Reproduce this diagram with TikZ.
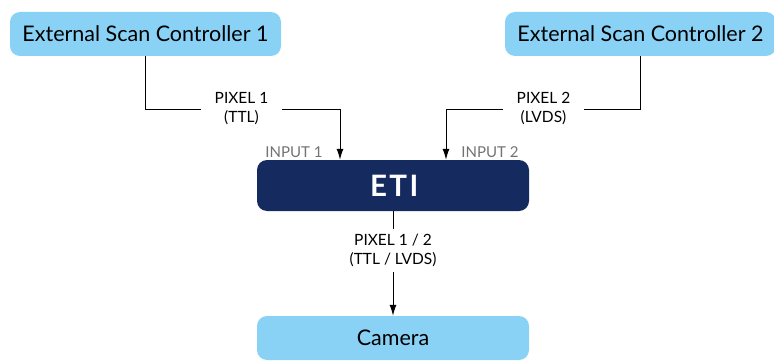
\documentclass[tikz,border=0pt]{standalone}
\usepackage{fontspec}
\setmainfont{Lato}
\usetikzlibrary{positioning,arrows.meta}
\definecolor{skyblue}{HTML}{89D1F5}
\definecolor{etinavy}{HTML}{152A5F}
\definecolor{portgray}{HTML}{737373}

\begin{document}
\begin{tikzpicture}[x=1pt,y=-1pt,
    box/.style={fill=skyblue, rounded corners=10pt, minimum width=271pt, minimum height=44pt, font=\fontsize{21.5}{24}\selectfont},
    sig/.style={align=center, font=\fontsize{15.5}{19}\selectfont, inner xsep=14pt, inner ysep=5pt},
    port/.style={text=portgray, font=\fontsize{15}{17}\selectfont, inner sep=0pt},
    wire/.style={line width=1pt},
    tip/.style={-{Latex[length=11pt,width=7pt]}}]
        \useasboundingbox (0,0) rectangle (774,361);
        % scan controllers
        \node[box] (SC1) at (145.5,34) {External Scan Controller 1};
        \node[box] (SC2) at (640.5,34) {External Scan Controller 2};
        % ETI and camera
        \node[fill=etinavy, text=white, rounded corners=10pt, minimum width=272pt, minimum height=51pt,
              font=\fontsize{29.5}{30}\selectfont\bfseries\addfontfeature{LetterSpace=8}] (ETI) at (393,185.5) {\hspace{2.5pt}ETI};
        \node[box, minimum width=272pt] (CAM) at (393,338) {Camera};
        % inputs
        \coordinate (IN1) at ([xshift=-53pt]ETI.north);
        \coordinate (IN2) at ([xshift=53pt]ETI.north);
        \node[port] (L1) at (294,152) {INPUT 1};
        \node[port] (L2) at (490,152) {INPUT 2};
        % signals
        \node[sig] (P1) at (241.5,109) {PIXEL 1\\(TTL)};
        \node[sig] (P2) at (543.5,109) {PIXEL 2\\(LVDS)};
        \node[sig] (P3) at (393,250.5) {PIXEL 1 / 2\\(TTL / LVDS)};
        \draw[wire] (SC1.south) |- (P1.west);
        \draw[wire, tip] (P1.east) -| (IN1);
        \draw[wire] (SC2.south) |- (P2.east);
        \draw[wire, tip] (P2.west) -| (IN2);
        \draw[wire] (ETI.south) -- (P3.north);
        \draw[wire, tip] (P3.south) -- (CAM.north);
    \end{tikzpicture}
\end{document}
